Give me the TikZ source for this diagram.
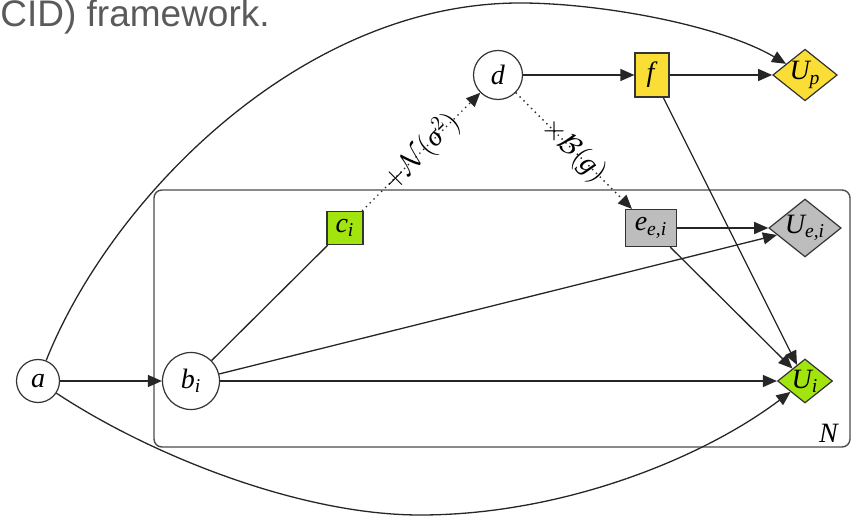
\documentclass[tikz,border=0pt]{standalone}
\usepackage{amsmath}
\usepackage{fontspec}
\setmainfont{Liberation Serif}
\newfontfamily\titlefont{Liberation Sans}
\usetikzlibrary{arrows.meta,shapes.geometric}
\definecolor{ylw}{HTML}{FADD35}
\definecolor{lime}{HTML}{A2E40E}
\definecolor{gry}{HTML}{BDBDBD}
\definecolor{ttl}{HTML}{5A5A5A}
\newcommand{\vi}[1]{\textit{#1}}
\tikzset{
  every node/.style={font=\fontsize{14}{16}\selectfont},
  chance/.style={circle, draw=black!80, line width=0.6pt, fill=white, inner sep=0pt},
  decbox/.style={rectangle, draw=black!80, line width=0.6pt, inner sep=0pt},
  util/.style={diamond, draw=black!80, line width=0.6pt, inner sep=0pt, aspect=1.25},
  conn/.style={draw=black!85, line width=0.65pt, -{Triangle[length=7pt,width=6pt]}},
  plainln/.style={draw=black!85, line width=0.65pt},
  dotconn/.style={draw=black!85, line width=0.7pt, dotted, -{Triangle[length=7pt,width=6pt]}},
  lbl/.style={sloped, inner sep=0pt, font=\fontsize{14}{16}\selectfont},
  plate/.style={draw=black!70, line width=0.7pt, rounded corners=4pt}
}
\begin{document}
\begin{tikzpicture}[x=0.5pt,y=-0.5pt]
\useasboundingbox (0,0) rectangle (854,517);
% title
\node[anchor=base west, inner sep=0pt, font=\titlefont\fontsize{18.5}{20}\selectfont, text=ttl] (title) at (0,27) {CID) framework.};
% plate
\draw[plate] (154,190) rectangle (850,447);
\node[inner sep=0pt] (N) at (829,433) {\vi{N}};
% nodes
\node[chance, minimum size=21.5pt] (a) at (38,381) {\vi{a}};
\node[chance, minimum size=28.5pt] (b) at (191,381) {$\vi{b}_{\vi{i}}$};
\node[chance, minimum size=24.5pt] (d) at (498,75) {\vi{d}};
\node[decbox, fill=ylw, minimum width=17pt, minimum height=22pt] (f) at (652,75) {\vi{f}};
\node[util, fill=ylw, minimum width=30.5pt, minimum height=24.5pt] (Up) at (805,75) {$\vi{U}_{\vi{p}}$};
\node[decbox, fill=lime, minimum width=18pt, minimum height=16.5pt] (c) at (345,228) {$\vi{c}_{\vi{i}}$};
\node[decbox, fill=gry, minimum width=25.5pt, minimum height=18.5pt] (e) at (651,228) {$\vi{e}_{\vi{e,i}}$};
\node[util, fill=gry, minimum width=33.5pt, minimum height=26.5pt] (Uei) at (805,228) {$\vi{U}_{\vi{e,i}}$};
\node[util, fill=lime, minimum width=25.5pt, minimum height=20.5pt] (Ui) at (805,381) {$\vi{U}_{\vi{i}}$};
% connectors
\draw[conn] (a) -- (b);
\draw[conn] (b) -- (Ui);
\draw[conn] (b) -- (Uei);
\draw[plainln] (b) -- (c);
\draw[dotconn] (c) -- node[lbl] {$+\mathcal{N}(\vi{σ}^{2})$} (d);
\draw[dotconn] (d) -- node[lbl] {$\times\mathcal{B}(\vi{g})$} (e);
\draw[conn] (d) -- (f);
\draw[conn] (f) -- (Up);
\draw[conn] (f) -- (Ui);
\draw[conn] (e) -- (Uei);
\draw[conn] (e) -- (Ui);
\coordinate (topm) at (520,3);
\coordinate (botm) at (420,515);
\draw[conn] (a) .. controls (110,200) and (300,3) .. (topm)
               .. controls (600,3) and (720,25) .. (Up);
\draw[conn] (a) .. controls (150,455) and (300,515) .. (botm)
               .. controls (560,515) and (700,460) .. (Ui);
\end{tikzpicture}
\end{document}
